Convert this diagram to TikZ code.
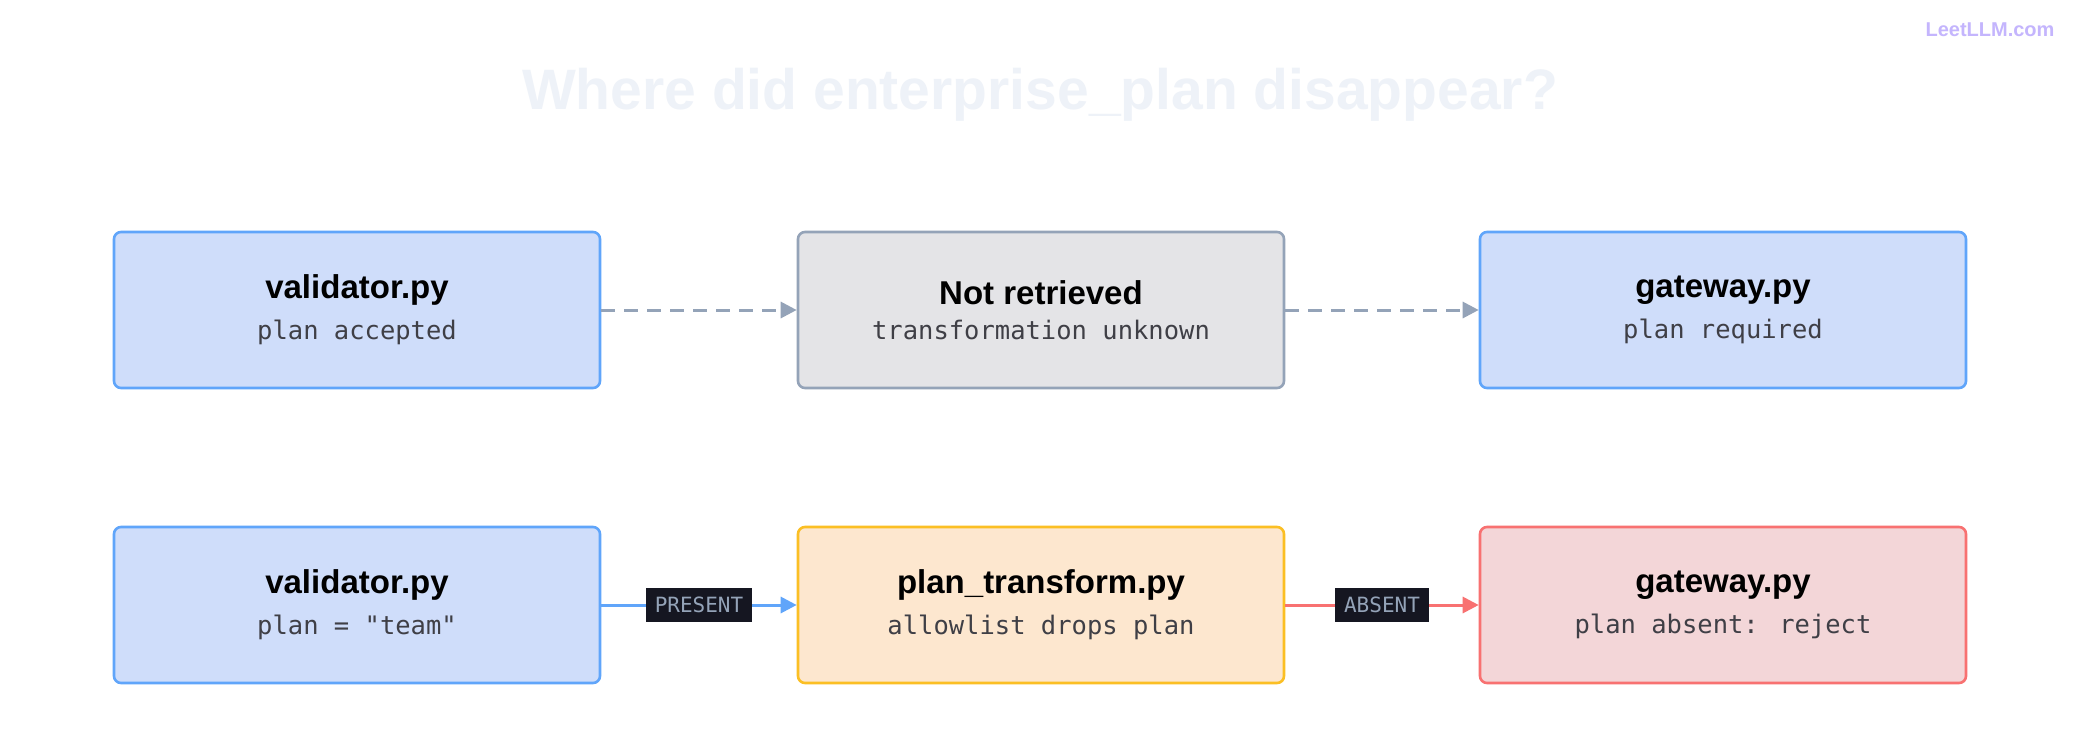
\documentclass[tikz,border=0pt]{standalone}
\usepackage{fontspec}
\setmainfont{Liberation Sans}
\newfontfamily\monof{DejaVu Sans Mono}
\usetikzlibrary{arrows.meta}
\definecolor{bfill}{HTML}{CFDDFA}\definecolor{bline}{HTML}{60A5FA}
\definecolor{gfill}{HTML}{E4E4E7}\definecolor{gline}{HTML}{94A3B8}
\definecolor{ofill}{HTML}{FDE7CF}\definecolor{oline}{HTML}{FBBF24}
\definecolor{rfill}{HTML}{F3D6D8}\definecolor{rline}{HTML}{F87171}
\definecolor{ttlc}{HTML}{EEF2F8}\definecolor{lbg}{HTML}{151621}
\definecolor{sub}{HTML}{3F3F46}\definecolor{logoc}{HTML}{C4B5FD}
\newcommand{\bt}{\bfseries\fontsize{33}{38}\selectfont}
\newcommand{\st}{\monof\fontsize{25.5}{30}\selectfont\color{sub}}
\begin{document}
\begin{tikzpicture}[x=1pt,y=-1pt,
 box/.style={draw,line width=2.6pt,rounded corners=7pt,minimum width=486pt,minimum height=156pt,align=center},
 arr/.style={line width=3pt,-{Triangle[length=16pt,width=16pt]}},
 lab/.style={fill=lbg,text=gline,font=\monof\fontsize{21}{24}\selectfont,inner xsep=9pt,minimum height=34pt}]
\useasboundingbox[fill=white] (0,0) rectangle (2080,734);
\node[text=ttlc,font=\bfseries\fontsize{57}{66}\selectfont] (title) at (1040,95) {Where did enterprise\_plan disappear?};
\node[text=logoc,font=\bfseries\fontsize{20}{24}\selectfont,anchor=east] (logo) at (2058,30) {LeetLLM.com};
\newcommand{\bx}[5]{\node[box,fill=#4,draw=#5] (#1) at #2 {#3};}
\bx{a}{(357,310)}{{\bt validator.py}\\[14pt]{\st plan accepted}}{bfill}{bline}
\bx{b}{(1041,310)}{{\bt Not retrieved}\\[14pt]{\st transformation unknown}}{gfill}{gline}
\bx{c}{(1723,310)}{{\bt gateway.py}\\[14pt]{\st plan required}}{bfill}{bline}
\bx{d}{(357,605)}{{\bt validator.py}\\[14pt]{\st plan = "team"}}{bfill}{bline}
\bx{e}{(1041,605)}{{\bt plan\_transform.py}\\[14pt]{\st allowlist drops plan}}{ofill}{oline}
\bx{f}{(1723,605)}{{\bt gateway.py}\\[14pt]{\st plan absent: reject}}{rfill}{rline}
\draw[arr,gline,dash pattern=on 14pt off 9pt] (a) -- (b);
\draw[arr,gline,dash pattern=on 14pt off 9pt] (b) -- (c);
\draw[arr,bline] (d) -- node[lab] (l1) {PRESENT} (e);
\draw[arr,rline] (e) -- node[lab] (l2) {ABSENT} (f);
\end{tikzpicture}
\end{document}
